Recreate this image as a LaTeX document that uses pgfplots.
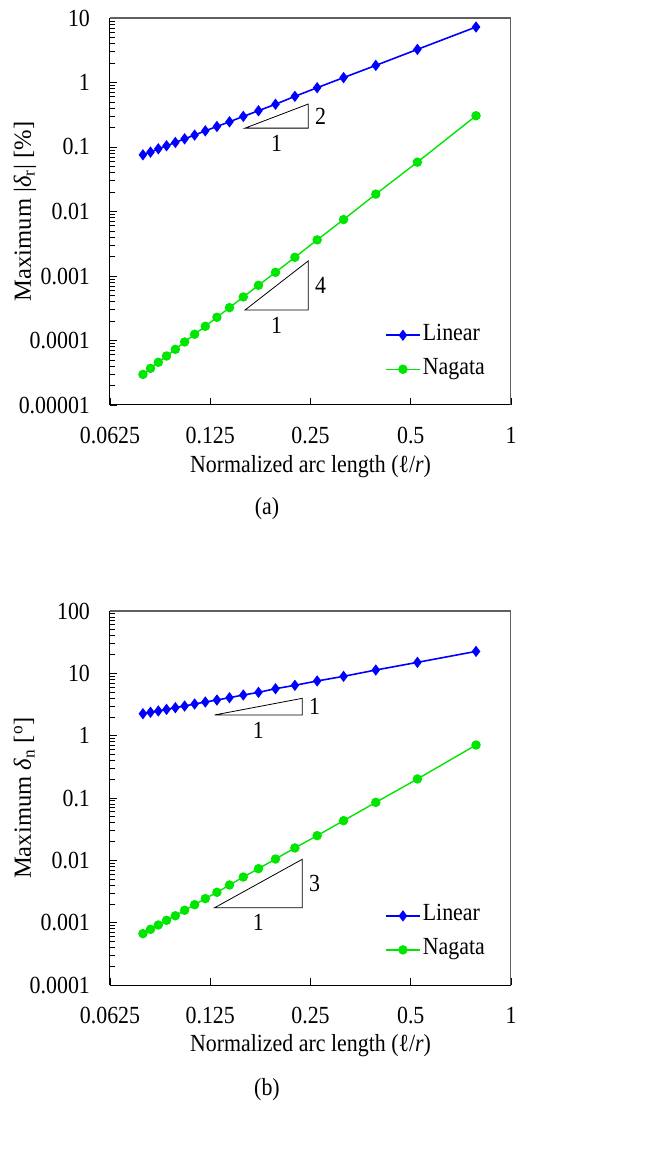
\documentclass[border=0pt]{standalone}
\usepackage{fontspec}
\setmainfont{Liberation Serif}[FakeStretch=0.89]
\newfontfamily\ylabfont{Liberation Serif}
\usepackage{pgfplots}
\pgfplotsset{compat=1.18}
\definecolor{lblue}{RGB}{0,0,255}
\definecolor{ngreen}{RGB}{0,230,0}
\newcommand{\fsz}{\fontsize{12.3}{14}\selectfont}
\tikzset{
  linstyle/.style={lblue, line width=0.8pt, mark=diamond*, mark size=2.2pt, mark options={solid, fill=lblue}},
  nagstyle/.style={ngreen, line width=0.7pt, mark=*, mark size=2pt, mark options={solid, fill=ngreen}},
}
\begin{document}
\begin{tikzpicture}
\useasboundingbox (0pt,0pt) rectangle (329pt,578.5pt);
% ---------------- (a)
\begin{axis}[at={(55pt,376pt)}, anchor=south west,
  scale only axis, width=200.5pt, height=193.5pt,
  xmode=log, ymode=log, log basis x=2,
  xmin=0.0625, xmax=1,
  xtick={0.0625,0.125,0.25,0.5,1},
  xticklabels={0.0625,0.125,0.25,0.5,1},
  xminorticks=false,
  axis lines*=left,
  axis line style={black, line width=0.5pt},
  tick align=inside,
  major tick length=3.5pt, minor tick length=2.5pt,
  tick style={black, line width=0.4pt},
  tick label style={font=\fsz},
  yticklabel style={xshift=-6.5pt},
  xticklabel style={yshift=-7.5pt},
  label style={font=\fsz},
  legend style={draw=none, fill=none, font=\fsz, row sep=5pt,
    nodes={text height=0.75em, text depth=0.25em, inner sep=1pt},
    at={(0.67,0.05)}, anchor=south west},
  legend cell align=left,
  ymin=1e-5, ymax=10,
  ytick={1e-5,1e-4,1e-3,1e-2,1e-1,1,10},
  yticklabels={0.00001,0.0001,0.001,0.01,0.1,1,10},
  xlabel={Normalized arc length (ℓ/\textit{r})},
  ylabel={\ylabfont Maximum |{\itshape δ}\textsubscript{r}| [\%]},
  xlabel style={at={(axis description cs:0.5,-0.1757)}, anchor=base},
  ylabel style={at={(axis description cs:-0.197,0.5)}, anchor=base},
]
\addplot[linstyle] coordinates {
(0.7854,7.25) (0.5236,3.26) (0.3927,1.84) (0.3142,1.19) (0.2618,0.83)
(0.2244,0.61) (0.1963,0.46) (0.1745,0.365) (0.1571,0.298) (0.1428,0.246)
(0.1309,0.208) (0.1208,0.178) (0.1122,0.153) (0.1047,0.134) (0.0982,0.1175)
(0.0924,0.1044) (0.0873,0.0938) (0.0827,0.0832) (0.0785,0.0756)};
\addlegendentry{Linear}
\addplot[nagstyle] coordinates {
(0.7854,0.305) (0.5236,0.0582) (0.3927,0.0186) (0.3142,0.0075) (0.2618,0.00363)
(0.2244,0.00195) (0.1963,0.00114) (0.1745,0.000718) (0.1571,0.000473) (0.1428,0.000323)
(0.1309,0.000229) (0.1208,0.000166) (0.1122,0.000125) (0.1047,0.0000948) (0.0982,0.0000730)
(0.0924,0.0000575) (0.0873,0.0000459) (0.0827,0.0000370) (0.0785,0.0000298)};
\addlegendentry{Nagata}
\draw[black, line width=0.4pt] (axis cs:0.159,0.196) -- node[below, font=\fsz]{1} (axis cs:0.246,0.196) -- node[right, font=\fsz]{2} (axis cs:0.246,0.463) -- cycle;
\draw[black, line width=0.4pt] (axis cs:0.159,0.000297) -- node[below, font=\fsz]{1} (axis cs:0.246,0.000297) -- node[right, font=\fsz]{4} (axis cs:0.246,0.00171) -- cycle;
\draw[gray!75!black, line width=0.6pt] (rel axis cs:0,1) -- (rel axis cs:1,1) -- (rel axis cs:1,0);
\end{axis}
% ---------------- (b)
\begin{axis}[at={(55pt,86pt)}, anchor=south west,
  scale only axis, width=200.5pt, height=187pt,
  xmode=log, ymode=log, log basis x=2,
  xmin=0.0625, xmax=1,
  xtick={0.0625,0.125,0.25,0.5,1},
  xticklabels={0.0625,0.125,0.25,0.5,1},
  xminorticks=false,
  axis lines*=left,
  axis line style={black, line width=0.5pt},
  tick align=inside,
  major tick length=3.5pt, minor tick length=2.5pt,
  tick style={black, line width=0.4pt},
  tick label style={font=\fsz},
  yticklabel style={xshift=-6.5pt},
  xticklabel style={yshift=-7.5pt},
  label style={font=\fsz},
  legend style={draw=none, fill=none, font=\fsz, row sep=5pt,
    nodes={text height=0.75em, text depth=0.25em, inner sep=1pt},
    at={(0.67,0.05)}, anchor=south west},
  legend cell align=left,
  ymin=1e-4, ymax=100,
  ytick={1e-4,1e-3,1e-2,1e-1,1,10,100},
  yticklabels={0.0001,0.001,0.01,0.1,1,10,100},
  xlabel={Normalized arc length (ℓ/\textit{r})},
  ylabel={\ylabfont Maximum {\itshape δ}\textsubscript{n} [\textsuperscript{o}]},
  xlabel style={at={(axis description cs:0.5,-0.178)}, anchor=base},
  ylabel style={at={(axis description cs:-0.197,0.5)}, anchor=base},
]
\addplot[linstyle] coordinates {
(0.7854,22.5) (0.5236,15.0) (0.3927,11.3) (0.3142,8.95) (0.2618,7.54)
(0.2244,6.42) (0.1963,5.67) (0.1745,4.95) (0.1571,4.49) (0.1428,4.07)
(0.1309,3.73) (0.1208,3.47) (0.1122,3.22) (0.1047,2.99) (0.0982,2.81)
(0.0924,2.64) (0.0873,2.49) (0.0827,2.37) (0.0785,2.25)};
\addlegendentry{Linear}
\addplot[nagstyle] coordinates {
(0.7854,0.708) (0.5236,0.202) (0.3927,0.0851) (0.3142,0.0433) (0.2618,0.0249)
(0.2244,0.0158) (0.1963,0.0105) (0.1745,0.00735) (0.1571,0.00540) (0.1428,0.00402)
(0.1309,0.00307) (0.1208,0.00243) (0.1122,0.00194) (0.1047,0.00158) (0.0982,0.00129)
(0.0924,0.00109) (0.0873,0.000918) (0.0827,0.000782) (0.0785,0.000667)};
\addlegendentry{Nagata}
\draw[black, line width=0.4pt] (axis cs:0.1289,2.15) -- node[below, font=\fsz]{1} (axis cs:0.236,2.15) -- node[right, font=\fsz]{1} (axis cs:0.236,3.97) -- cycle;
\draw[black, line width=0.4pt] (axis cs:0.1289,0.00174) -- node[below, font=\fsz]{1} (axis cs:0.236,0.00174) -- node[right, font=\fsz]{3} (axis cs:0.236,0.01037) -- cycle;
\draw[gray!75!black, line width=0.6pt] (rel axis cs:0,1) -- (rel axis cs:1,1) -- (rel axis cs:1,0);
\end{axis}
\node[font=\fsz] at (133.5pt,324pt) {(a)};
\node[font=\fsz] at (133.5pt,33.5pt) {(b)};
\end{tikzpicture}
\end{document}
